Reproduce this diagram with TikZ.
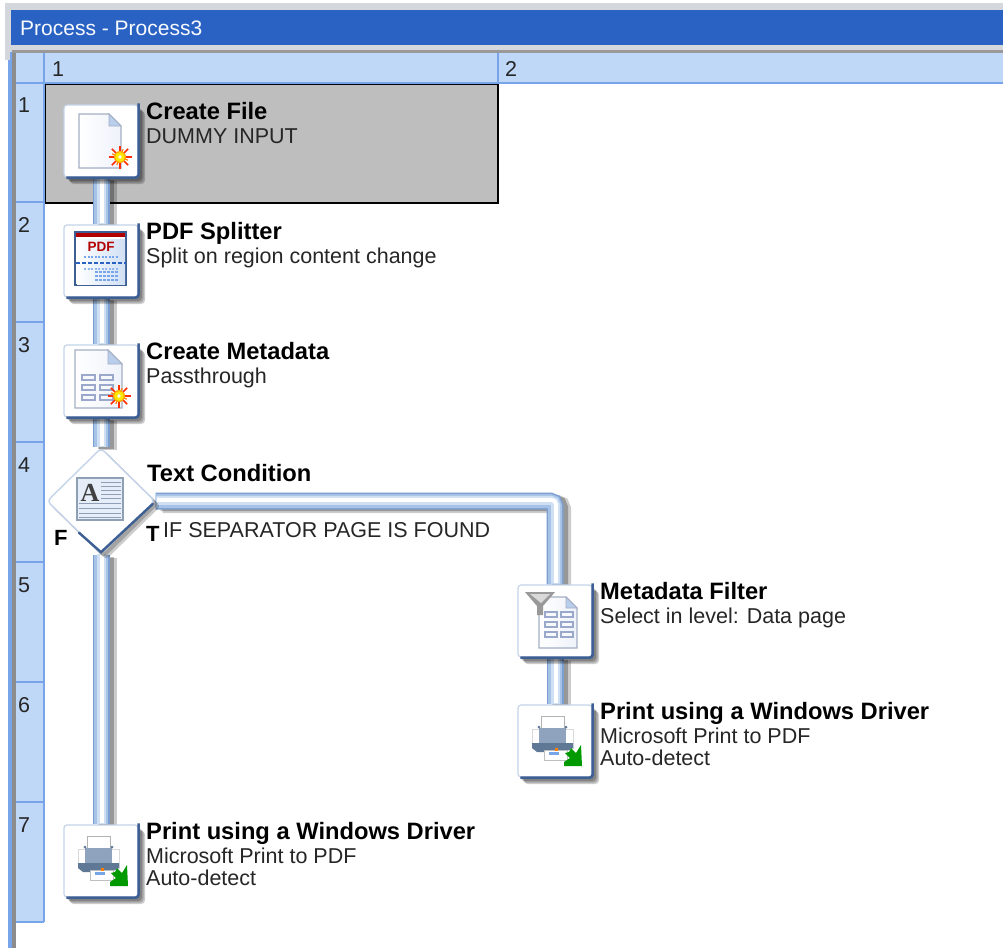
\documentclass[tikz,border=0pt]{standalone}
\usepackage{fontspec}
\setmainfont{Liberation Sans}
\usetikzlibrary{shapes.geometric}
\pgfdeclarelayer{bglayer}
\pgfdeclarelayer{pipelayer}
\pgfsetlayers{bglayer,pipelayer,main}
\definecolor{titleblue}{HTML}{2A62C4}
\definecolor{hdrblue}{HTML}{C0D8F8}
\definecolor{gridblue}{HTML}{78A4EA}
\definecolor{framegray}{HTML}{D4D8DC}
\definecolor{selgray}{HTML}{BEBEBE}
\definecolor{edgedark}{HTML}{3D5F94}
\definecolor{edgelight}{HTML}{C4D4EA}
\definecolor{pagefill}{HTML}{EEF2FA}
\definecolor{pageedge}{HTML}{A4AEC4}
\definecolor{cellline}{HTML}{9AA8CC}
\definecolor{pipeA}{HTML}{7D9FCF}
\definecolor{pipeB}{HTML}{A6C2E6}
\definecolor{pipeC}{HTML}{D0E0F4}
\definecolor{printbody}{HTML}{8FA3BF}
\definecolor{printdark}{HTML}{5F7896}
\tikzset{
  x=1pt,y=-1pt,
  iconbox/.style={rectangle,rounded corners=3pt,minimum width=74pt,minimum height=72pt,inner sep=0pt,
    fill=white,draw=edgelight,line width=1.2pt},
  conddiamond/.style={diamond,minimum width=108pt,minimum height=106pt,inner sep=0pt,
    fill=white,draw=edgelight,line width=1.4pt,rounded corners=4pt},
  rowlabel/.style={anchor=base west,inner sep=0pt,font=\fontsize{21.5}{22}\selectfont,text=black!85},
  titletext/.style={anchor=base west,inner sep=0pt,font=\fontsize{23.7}{24}\selectfont\bfseries},
  subtext/.style={anchor=base west,inner sep=0pt,font=\fontsize{21.5}{24}\selectfont,text=black!85},
  flagtext/.style={anchor=base west,inner sep=0pt,font=\fontsize{22}{24}\selectfont\bfseries},
  pageshape/.style={left color=white,right color=pagefill,draw=pageedge,line width=1.2pt},
  foldshape/.style={fill=pipeB!80!white,draw=pageedge,line width=.8pt},
  tablecell/.style={draw=cellline,fill=white!92!cellline,line width=1.4pt},
  softshadow/.style={black,opacity=.2,rounded corners=4pt},
}
% layered tube with a soft shadow
\newcommand{\tube}[1]{%
  \begin{pgfonlayer}{pipelayer}
    \begin{scope}[rounded corners=5pt]
    \draw[black,opacity=.2,line width=18pt,transform canvas={shift={(7pt,-3pt)}}] #1;
    \draw[black,opacity=.25,line width=16pt,transform canvas={shift={(5pt,-2pt)}}] #1;
    \draw[pipeA,line width=17pt] #1;
    \draw[pipeB,line width=14pt] #1;
    \draw[pipeC,line width=9pt,transform canvas={shift={(.7pt,.7pt)}}] #1;
    \draw[white,line width=4pt,transform canvas={shift={(1.2pt,1.2pt)}}] #1;
    \end{scope}
  \end{pgfonlayer}}
\newcommand{\boxshadow}[1]{%
  \begin{pgfonlayer}{pipelayer}
    \fill[softshadow,transform canvas={shift={(6.5pt,-6.5pt)}}] (#1.north west) rectangle (#1.south east);
    \fill[softshadow,transform canvas={shift={(5pt,-5pt)}}] (#1.north west) rectangle (#1.south east);
    \fill[softshadow,transform canvas={shift={(3.5pt,-3.5pt)}}] (#1.north west) rectangle (#1.south east);
  \end{pgfonlayer}}
\newcommand{\boxedges}[1]{%
  \draw[edgedark,line width=2.6pt,rounded corners=3pt] ([yshift=1pt]#1.north east) -- (#1.south east) -- ([xshift=3pt]#1.south west);}
\newcommand{\sunburst}[2]{%
  \begin{scope}[shift={(#1,#2)}]
    \foreach \a in {0,45,...,315}{\draw[red!65!orange,line width=1.7pt] (\a:5.5) -- (\a:11.5);}
    \foreach \a in {22,112,202,292}{\draw[orange,line width=1.2pt] (\a:5) -- (\a:8.5);}
    \fill[orange!70!yellow] (0,0) circle (6);
    \fill[yellow!90!orange] (0,0) circle (4.8);
    \fill[white] (0,0) circle (1.8);
  \end{scope}}
\newcommand{\foldpage}[5]{% left top right bottom fold
  \draw[pageshape] (#1,#2) -- (#3-#5,#2) -- (#3,#2+#5) -- (#3,#4) -- (#1,#4) -- cycle;
  \draw[foldshape] (#3-#5,#2) -- (#3-#5,#2+#5) -- (#3,#2+#5) -- cycle;}
\newcommand{\cells}[5]{% x1 x2 y1 w step
  \foreach \r in {0,1,2}{
    \draw[tablecell] (#1,#3+\r*#5) rectangle +(#4,5);
    \draw[tablecell] (#2,#3+\r*#5) rectangle +(#4,5);}}
\newcommand{\printerglyph}[2]{%
  \begin{scope}[shift={(#1,#2)}]
    \draw[fill=white,draw=black!30,line width=.9pt] (-14,-25) rectangle (9,-9);
    \fill[white] (-24,-13) rectangle (19,8);
    \draw[black!15,line width=1pt] (-23,8) -- (-23,-12) -- (18,-12) -- (18,8);
    \fill[printbody] (-16,-13) rectangle (11,6);
    \fill[printdark] (-23,2) -- (18,2) -- (18,7) -- (10,11) -- (-18,11) -- (-23,7) -- cycle;
    \fill[printdark] (-16,-14) circle (1.5) (11,-14) circle (1.5);
    \draw[fill=white,draw=black!25,line width=.8pt] (-11,9) rectangle (12,19);
    \fill[gridblue] (-6,11) rectangle (4,14);
    \fill[orange] (0,7) rectangle (3,10);
    \fill[green!60!black] (10,12) -- (14,11) -- (16,7) -- (21,12) -- (26,4) -- (27,25) -- (9,25) -- (9,21) -- (15,17) -- cycle;
  \end{scope}}
\begin{document}
\begin{tikzpicture}
\useasboundingbox (0,0) rectangle (1003,948);
\begin{pgfonlayer}{bglayer}
  \fill[white] (0,0) rectangle (1003,948);
  % window frame
  \fill[framegray] (5,3) rectangle (1003,53);
  \fill[framegray] (5,3) rectangle (10,60);
  \fill[titleblue] (10.5,10) rectangle (1003,45);
  \fill[gridblue] (7.5,60) rectangle (12,948);
  \fill[gridblue] (10,52) rectangle (12,60);
  \fill[black!45] (12,50) rectangle (15.5,948);
  \fill[black!40] (12,50) rectangle (1003,53);
  % headers
  \fill[hdrblue] (15.5,53) rectangle (1003,83);
  \fill[hdrblue] (15.5,53) rectangle (44,922);
  \foreach \yy in {83,202,322,442,562,682,802,922}{\draw[gridblue,line width=1.4pt] (15.5,\yy) -- (44,\yy);}
  \draw[gridblue,line width=1.4pt] (44,53) -- (44,922);
  \draw[gridblue,line width=1.4pt] (44,83) -- (1003,83);
  \draw[gridblue,line width=1.4pt] (498,53) -- (498,83);
  \draw[black,line width=1.6pt,fill=selgray] (45.5,84.5) rectangle (498,203);
\end{pgfonlayer}

\node[anchor=base west,inner sep=0pt,text=white!90!hdrblue,font=\fontsize{21}{24}\selectfont] (wintitle) at (20,35) {Process - Process3};
\node[rowlabel] (colone) at (52,76) {1};
\node[rowlabel] (coltwo) at (505,76) {2};
\foreach \n/\yy in {1/112,2/232,3/352,4/472,5/592,6/712,7/832}{\node[rowlabel] (row\n) at (18,\yy) {\n};}

% process boxes
\node[iconbox] (create) at (101,141) {};
\node[iconbox] (split) at (101,261) {};
\node[iconbox] (meta) at (101,381) {};
\node[conddiamond] (cond) at (101,501) {};
\node[iconbox] (filter) at (555,621) {};
\node[iconbox] (printb) at (555,741) {};
\node[iconbox] (printa) at (101,861) {};

\tube{(create.south) -- (split.north)}
\tube{(split.south) -- (meta.north)}
\tube{(meta.south) -- (cond.north)}
\tube{(cond.south) -- (printa.north)}
\tube{(cond.east) -| (filter.north)}
\tube{(filter.south) -- (printb.north)}

\foreach \n in {create,split,meta,filter,printb,printa}{\boxshadow{\n}\boxedges{\n}}
\begin{pgfonlayer}{pipelayer}
  \fill[softshadow,transform canvas={shift={(5pt,-5pt)}}] (cond.north) -- (cond.east) -- (cond.south) -- (cond.west) -- cycle;
  \fill[softshadow,transform canvas={shift={(3pt,-3pt)}}] (cond.north) -- (cond.east) -- (cond.south) -- (cond.west) -- cycle;
\end{pgfonlayer}
\draw[edgedark,line width=2.4pt,line cap=round] ([xshift=-3pt,yshift=-3pt]cond.east) -- ([yshift=2.5pt]cond.south) -- ([xshift=-22pt,yshift=22pt]cond.south);

% Create File icon
\begin{scope}[shift={(101,141)}]
  \foldpage{-22}{-27}{20}{27}{12}
\end{scope}
\sunburst{120}{157}

% PDF Splitter icon
\begin{scope}[shift={(101,261)}]
  \fill[white,draw=edgedark,line width=1.6pt] (-26,-29) rectangle (25,24);
  \fill[left color=white,right color=pipeC] (-24,-22) rectangle (24,23);
  \fill[red!70!black] (-25,-28) rectangle (24,-24);
  \node[inner sep=0pt,text=red!70!black,font=\fontsize{13.5}{14}\selectfont\bfseries] (pdfword) at (0,-14) {PDF};
  \draw[gridblue,line width=1.2pt,dash pattern=on 2pt off 1.5pt] (-17,-4) -- (17,-4);
  \draw[titleblue,line width=1.4pt,dash pattern=on 4pt off 2pt] (-25,2) -- (25,2);
  \draw[gridblue!80,line width=1.2pt,dash pattern=on 2pt off 1.5pt] (-17,8) -- (17,8);
  \foreach \yy in {11,15,19}{\draw[gridblue,line width=1.4pt,dash pattern=on 2.5pt off 1.5pt] (-6,\yy) -- (17,\yy);}
\end{scope}

% Create Metadata icon
\begin{scope}[shift={(101,381)}]
  \foldpage{-26}{-31}{21}{27}{14}
  \cells{-19}{-1}{-6}{13}{10}
\end{scope}
\sunburst{119}{396}

% Condition icon
\begin{scope}[shift={(101,501)}]
  \fill[pagefill,draw=printdark!70,line width=1.2pt] (-24,-23) rectangle (22,19);
  \fill[white!70!pipeB] (-23,-22) rectangle (21,18);
  \foreach \yy in {-19,-15,...,-3}{\draw[printdark!70,line width=.8pt] (0,\yy) -- (20,\yy);}
  \foreach \yy in {2,7,12,16}{\draw[printdark!70,line width=.8pt] (-22,\yy) -- (20,\yy);}
  \node[inner sep=0pt,font=\fontsize{26}{26}\selectfont\bfseries,text=black!75] (letter) at (-11,-8) {\fontspec{Liberation Serif}A};
\end{scope}

% Metadata Filter icon
\begin{scope}[shift={(555,621)}]
  \foldpage{-16}{-24}{22}{27}{11}
  \cells{-10}{6}{-9}{12}{10}
  \fill[black!40] (-30,-29) -- (0,-29) -- (-12,-15) -- (-12,-6) -- (-18,-6) -- (-18,-15) -- cycle;
  \fill[black!15] (-25,-27) -- (-5,-27) -- (-14,-18) -- cycle;
\end{scope}

% Printer icons
\printerglyph{555}{741}
\printerglyph{101}{861}

% Labels
\node[titletext] (t1) at (146,119) {Create File};
\node[subtext] (s1) at (146,143) {DUMMY INPUT};
\node[titletext] (t2) at (146,239) {PDF Splitter};
\node[subtext] (s2) at (146,263) {Split on region content change};
\node[titletext] (t3) at (146,359) {Create Metadata};
\node[subtext] (s3) at (146,383) {Passthrough};
\node[titletext] (t4) at (147,481) {Text Condition};
\node[flagtext] (flagt) at (146,541) {T};
\node[flagtext] (flagf) at (54,545) {F};
\node[subtext] (s4) at (163,537) {IF SEPARATOR PAGE IS FOUND};
\node[titletext] (t5) at (600,599) {Metadata Filter};
\node[subtext] (s5) at (600,623) {Select in level: Data page};
\node[titletext] (t6) at (600,719) {Print using a Windows Driver};
\node[subtext] (s6a) at (600,743) {Microsoft Print to PDF};
\node[subtext] (s6b) at (600,765) {Auto-detect};
\node[titletext] (t7) at (146,839) {Print using a Windows Driver};
\node[subtext] (s7a) at (146,863) {Microsoft Print to PDF};
\node[subtext] (s7b) at (146,885) {Auto-detect};
\end{tikzpicture}
\end{document}
